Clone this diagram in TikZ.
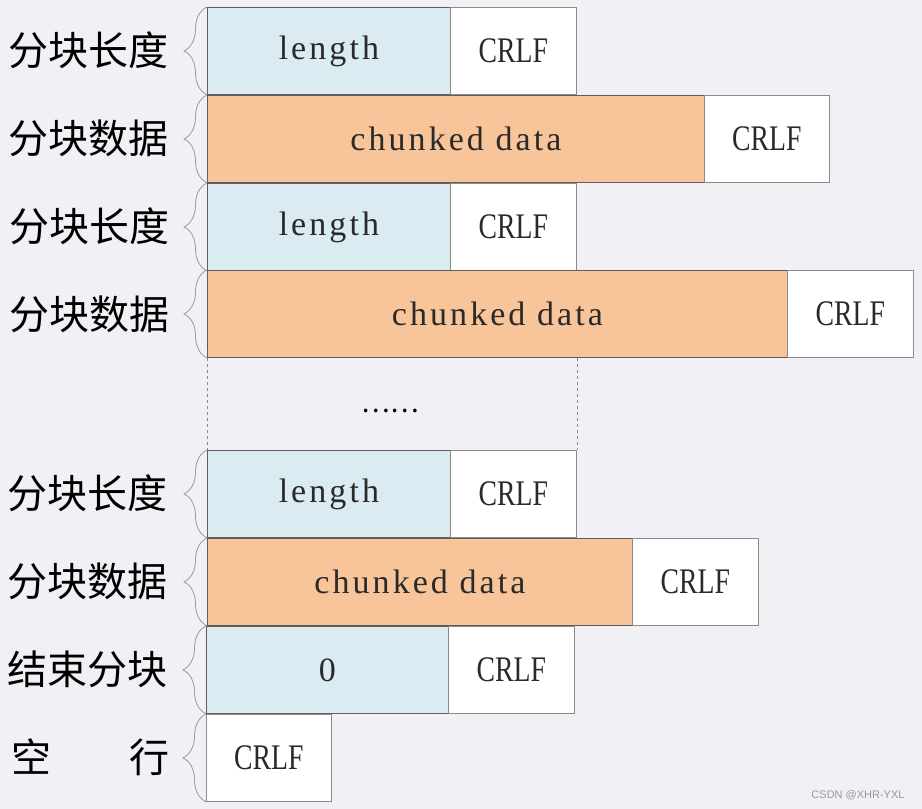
\documentclass[tikz,border=0pt]{standalone}
\usepackage{fontspec}
\usepackage{graphicx}
\usetikzlibrary{decorations.pathreplacing}
\setmainfont{Liberation Serif}
\newfontfamily\cjkfont{Noto Sans CJK SC}
\newfontfamily\boxfont[LetterSpace=9]{Liberation Serif}
\newfontfamily\wmfont{Liberation Sans}
\definecolor{bg}{HTML}{F1F0F5}
\definecolor{lenblue}{HTML}{DAEBF2}
\definecolor{dataorange}{HTML}{F8C49A}
\definecolor{boxline}{HTML}{5E5E5E}
\definecolor{crlfline}{HTML}{8A8A8A}
\definecolor{braceg}{HTML}{9A9A9A}
\definecolor{textc}{HTML}{2A2A2A}
\newcommand\crlftxt{\scalebox{0.77}[1]{CRLF}}
\tikzset{
  cell/.style={draw=boxline, line width=0.8pt, minimum height=87pt, inner sep=0pt,
    anchor=north west, text=textc, font=\boxfont\fontsize{34}{34}\selectfont},
  lenbox/.style={cell, fill=lenblue},
  databox/.style={cell, fill=dataorange},
  crlfbox/.style={cell, fill=white, draw=crlfline, font=\fontsize{36}{36}\selectfont},
  lab/.style={font=\cjkfont\fontsize{40}{40}\selectfont, anchor=east, inner sep=0pt, text=black},
  brc/.style={draw=braceg, line width=0.8pt, decorate, decoration={brace, amplitude=23pt}},
  guide/.style={draw=crlfline, line width=0.6pt, dashed}
}
\begin{document}
\begin{tikzpicture}[x=1pt, y=-1pt]
\fill[bg] (0,0) rectangle (922,809);
\useasboundingbox (0,0) rectangle (922,809);

% row 1
\node[lenbox, minimum width=243pt] (l1) at (207,7) {length};
\node[crlfbox, minimum width=126pt] (c1) at (450,7) {\crlftxt};
% row 2
\node[databox, minimum width=497pt] (d2) at (207,95) {chunked data};
\node[crlfbox, minimum width=125pt] (c2) at (704,95) {\crlftxt};
% row 3
\node[lenbox, minimum width=243pt] (l3) at (207,183) {length};
\node[crlfbox, minimum width=126pt] (c3) at (450,183) {\crlftxt};
% row 4
\node[databox, minimum width=580pt] (d4) at (207,270) {chunked data};
\node[crlfbox, minimum width=126pt] (c4) at (787,270) {\crlftxt};
% row 5
\node[lenbox, minimum width=243pt] (l5) at (207,450) {length};
\node[crlfbox, minimum width=126pt] (c5) at (450,450) {\crlftxt};
% row 6
\node[databox, minimum width=425pt] (d6) at (207,538) {chunked data};
\node[crlfbox, minimum width=126pt] (c6) at (632,538) {\crlftxt};
% row 7
\node[lenbox, minimum width=242pt] (l7) at (206,626) {0};
\node[crlfbox, minimum width=126pt] (c7) at (448,626) {\crlftxt};
% row 8
\node[crlfbox, minimum width=125pt] (c8) at (206,714) {\crlftxt};

% dashed guides and dots
\draw[guide] (d4.south west) -- (l5.north west);
\coordinate (g1) at (c5.north east |- d4.south);
\draw[guide] (g1) -- (c5.north east);
\node[font=\cjkfont\fontsize{27}{27}\selectfont, text=black, inner sep=0pt] (dots) at (390,411) {……};

% braces
\draw[brc] (l1.south west) -- (l1.north west);
\draw[brc] (d2.south west) -- (d2.north west);
\draw[brc] (l3.south west) -- (l3.north west);
\draw[brc] (d4.south west) -- (d4.north west);
\draw[brc] (l5.south west) -- (l5.north west);
\draw[brc] (d6.south west) -- (d6.north west);
\draw[brc] (l7.south west) -- (l7.north west);
\draw[brc] (c8.south west) -- (c8.north west);

% labels
\node[lab] (t1) at (169,50) {分块长度};
\node[lab] (t2) at (169,138) {分块数据};
\node[lab] (t3) at (170,226) {分块长度};
\node[lab] (t4) at (170,314) {分块数据};
\node[lab] (t5) at (168,493) {分块长度};
\node[lab] (t6) at (168,581) {分块数据};
\node[lab] (t7) at (168,669) {结束分块};
\node[lab, text width=158pt] (t8) at (170,757) {空\hfill 行};

% watermark
\node[font=\wmfont\fontsize{11}{11}\selectfont, text=gray!80, inner sep=0pt] (wm) at (858,795) {CSDN @XHR-YXL};
\end{tikzpicture}
\end{document}
